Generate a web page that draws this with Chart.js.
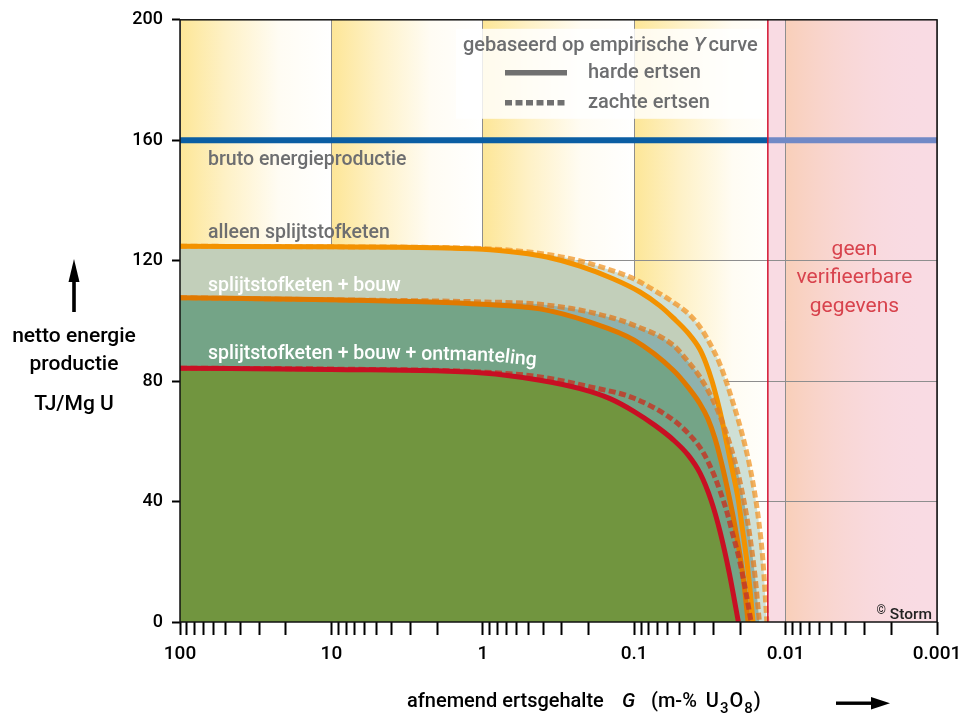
<!DOCTYPE html>
<html>
<head>
<meta charset="utf-8">
<script src="https://cdn.jsdelivr.net/npm/chart.js@4.4.0/dist/chart.umd.min.js"></script>
<style>
    html, body { margin: 0; padding: 0; background: #fff; }
    #wrap { width: 970px; height: 713px; }
</style>
</head>
<body>
<div id="wrap"><canvas id="myChart" width="970" height="713"></canvas></div>
<script>
// ertsgehalte G (m-% U3O8) tegen netto energie (TJ/Mg U)
const grossEnergy = 160;
const verifyLimit = 0.0131;

// alleen splijtstofketen
const hardFuelG = [100, 10, 1, 0.568, 0.378, 0.228, 0.138, 0.0916, 0.0676, 0.0552, 0.0441, 0.0368, 0.0336, 0.0306, 0.0284, 0.0263, 0.0244, 0.0226, 0.0206, 0.0193, 0.0181, 0.0172, 0.0164];
const hardFuelE = [124.8, 124.6, 123.8, 122.6, 121.2, 118.2, 114, 109.6, 105, 101, 96, 90.5, 86, 80, 74, 67, 59, 51, 41, 31, 21, 11, 0];
const softFuelG = [100, 10, 1, 0.378, 0.228, 0.138, 0.1, 0.0676, 0.0552, 0.0441, 0.0368, 0.0316, 0.0271, 0.0223, 0.0185, 0.0164, 0.0150, 0.0141, 0.0133];
const softFuelE = [124.8, 124.6, 124, 122.1, 119.9, 116.6, 113.9, 109, 106.2, 102.5, 98, 92.5, 85.5, 73, 58.5, 46, 33, 20, 0];

// splijtstofketen + bouw
const hardBuildG = [100, 10, 1, 0.419, 0.196, 0.1, 0.0552, 0.0441, 0.0368, 0.0326, 0.0293, 0.0267, 0.0244, 0.0226, 0.0213, 0.0200, 0.0188, 0.0177];
const hardBuildE = [107.7, 107, 105.5, 104, 99.6, 93.6, 83.6, 78, 72.5, 67.5, 61, 53.5, 45, 37, 30, 22, 12.5, 0];
const softBuildG = [100, 10, 1, 0.419, 0.196, 0.1, 0.0552, 0.0441, 0.0368, 0.0288, 0.0233, 0.0197, 0.0174, 0.0159, 0.0149];
const softBuildE = [107.7, 107, 106.3, 105.5, 102.9, 98.5, 91.9, 86.5, 81.4, 71.5, 59, 45, 30, 15, 0];

// splijtstofketen + bouw + ontmanteling
const hardFullG = [100, 10, 1, 0.419, 0.228, 0.1445, 0.1, 0.0729, 0.0552, 0.0441, 0.0368, 0.0311, 0.0271, 0.0236, 0.0205];
const hardFullE = [84.3, 83.9, 82.7, 80.3, 77.5, 74.2, 69.9, 65.3, 60.5, 55.5, 49.5, 40.5, 30, 16.5, 0];
const softFullG = [100, 10, 1, 0.419, 0.196, 0.1, 0.0552, 0.0441, 0.0368, 0.0331, 0.0297, 0.0271, 0.0244, 0.0223, 0.0206, 0.0194, 0.0183, 0.0169];
const softFullE = [84.3, 84, 83, 81.4, 78.1, 74.3, 67.1, 62.7, 58, 54, 48.8, 43.5, 36.5, 29, 22.5, 16.5, 10, 0];

const brutoG = [100, verifyLimit, 0.001];
const brutoE = [grossEnergy, grossEnergy, grossEnergy];

const xDecades = [100, 10, 1, 0.1, 0.01, 0.001];
const xTickLabels = ['100', '10', '1', '0.1', '0.01', '0.001'];
const xMinorSteps = [2, 3, 4, 5, 6, 7, 8, 9];
const yTickStep = 40;

const fontFam = "Roboto, 'Noto Sans', sans-serif";
const gridGray = '#8e8e8e';
const textGray = '#6d6e70';

function pts(gs, es) {
    return gs.map((g, i) => ({ x: g, y: es[i] }));
}

function isDecade(v) {
    const l = Math.log10(v);
    return Math.abs(l - Math.round(l)) < 1e-6;
}

const xTickValues = [];
xDecades.forEach((d, i) => {
    xTickValues.push(d);
    if (i > 0) xMinorSteps.forEach(m => xTickValues.push(+(m * d).toPrecision(6)));
});

const backdrop = {
    id: 'backdrop',
    beforeDraw(chart) {
        const { ctx, chartArea: a, scales: { x } } = chart;
        const h = a.bottom - a.top;
        const xl = x.getPixelForValue(verifyLimit);
        ctx.save();
        for (let i = 0; i < xDecades.length - 1; i++) {
            const x0 = x.getPixelForValue(xDecades[i]);
            const x1 = x.getPixelForValue(xDecades[i + 1]);
            if (x0 >= xl) break;
            const g = ctx.createLinearGradient(x0, 0, x1, 0);
            g.addColorStop(0, '#fde697');
            g.addColorStop(0.3, '#fef1c6');
            g.addColorStop(0.65, '#fffcf3');
            g.addColorStop(1, '#ffffff');
            ctx.fillStyle = g;
            ctx.fillRect(x0, a.top, Math.min(x1, xl) - x0, h);
        }
        ctx.fillStyle = '#f9dbe3';
        ctx.fillRect(xl, a.top, a.right - xl, h);
        const xp = x.getPixelForValue(0.01);
        const gp = ctx.createLinearGradient(xp, 0, xp + 140, 0);
        gp.addColorStop(0, '#f9cfb9');
        gp.addColorStop(1, 'rgba(249,219,227,0)');
        ctx.fillStyle = gp;
        ctx.fillRect(xp, a.top, 140, h);
        ctx.restore();
    }
};

// tekst die licht afbuigt, zoals het label langs de onderste curve
function drawBentText(ctx, text, x, y, drop) {
    const n = text.length;
    let cx = x;
    for (let i = 0; i < n; i++) {
        const ch = text[i];
        const w = ctx.measureText(ch).width;
        const t = i / n;
        const dy = drop * t * t;
        const ang = Math.atan(2 * drop * t / (n * w || 1)) * 0.9;
        ctx.save();
        ctx.translate(cx, y + dy);
        ctx.rotate(ang);
        ctx.fillText(ch, 0, 0);
        ctx.restore();
        cx += w;
    }
}

const annotations = {
    id: 'annotations',
    afterDatasetsDraw(chart) {
        const { ctx, chartArea: a, scales: { x } } = chart;
        const xl = x.getPixelForValue(verifyLimit);
        ctx.save();
        // grens verifieerbare gegevens
        ctx.strokeStyle = '#d3122f';
        ctx.lineWidth = 1.5;
        ctx.beginPath();
        ctx.moveTo(xl, a.top);
        ctx.lineTo(xl, a.bottom);
        ctx.stroke();

        ctx.fillStyle = '#d8434d';
        ctx.font = `21px ${fontFam}`;
        ctx.textAlign = 'center';
        ctx.textBaseline = 'middle';
        const cx = (xl + a.right) / 2 + 2;
        ctx.fillText('geen', cx, a.top + 230);
        ctx.fillText('verifieerbare', cx, a.top + 258);
        ctx.fillText('gegevens', cx, a.top + 287);

        // labels bij de curves
        ctx.textAlign = 'left';
        ctx.font = `500 19.5px ${fontFam}`;
        const lx = a.left + 28;
        ctx.fillStyle = textGray;
        ctx.fillText('bruto energieproductie', lx, a.top + 140);
        ctx.fillText('alleen splijtstofketen', lx, a.top + 213);
        ctx.fillStyle = '#ffffff';
        ctx.fillText('splijtstofketen + bouw', lx, a.top + 266);
        const first = 'splijtstofketen + bouw + ';
        ctx.fillText(first, lx, a.top + 334);
        drawBentText(ctx, 'ontmanteling', lx + ctx.measureText(first).width, a.top + 335, 6);

        // legenda
        ctx.fillStyle = 'rgba(255,255,255,0.82)';
        ctx.fillRect(a.left + 276, a.top + 9, 311, 90);
        ctx.fillStyle = textGray;
        ctx.font = `500 20px ${fontFam}`;
        let tx = a.left + 283;
        const ty = a.top + 26;
        const part1 = 'gebaseerd op empirische ';
        ctx.fillText(part1, tx, ty);
        tx += ctx.measureText(part1).width;
        ctx.font = `italic 500 20px ${fontFam}`;
        ctx.fillText('Y', tx, ty);
        tx += ctx.measureText('Y').width + 3;
        ctx.font = `500 20px ${fontFam}`;
        ctx.fillText('curve', tx, ty);

        ctx.strokeStyle = '#707070';
        ctx.lineWidth = 5.5;
        ctx.beginPath();
        ctx.moveTo(a.left + 325, a.top + 53);
        ctx.lineTo(a.left + 387, a.top + 53);
        ctx.stroke();
        ctx.setLineDash([7, 3.5]);
        ctx.beginPath();
        ctx.moveTo(a.left + 325, a.top + 83);
        ctx.lineTo(a.left + 387, a.top + 83);
        ctx.stroke();
        ctx.setLineDash([]);
        ctx.fillText('harde ertsen', a.left + 408, a.top + 53);
        ctx.fillText('zachte ertsen', a.left + 408, a.top + 83);
        ctx.restore();
    },
    afterDraw(chart) {
        const { ctx, chartArea: a } = chart;
        ctx.save();
        // kader
        ctx.strokeStyle = '#111';
        ctx.lineWidth = 1.5;
        ctx.strokeRect(a.left, a.top, a.right - a.left, a.bottom - a.top);

        // copyright
        ctx.fillStyle = '#222';
        ctx.textAlign = 'right';
        ctx.textBaseline = 'alphabetic';
        ctx.font = `500 15.5px ${fontFam}`;
        ctx.fillText('Storm', a.right - 5, a.bottom - 3);
        const sw = ctx.measureText('Storm').width;
        ctx.font = `12px ${fontFam}`;
        ctx.fillText('©', a.right - 9 - sw, a.bottom - 8);

        // y-as titel
        ctx.fillStyle = '#000';
        ctx.textAlign = 'center';
        ctx.textBaseline = 'middle';
        ctx.font = `500 21px ${fontFam}`;
        ctx.fillText('netto energie', 74, 337);
        ctx.fillText('productie', 74, 365);
        ctx.fillText('TJ/Mg U', 74, 405);
        ctx.fillRect(72.2, 278, 3.6, 34);
        ctx.beginPath();
        ctx.moveTo(74, 259);
        ctx.lineTo(68.5, 282);
        ctx.lineTo(79.5, 282);
        ctx.closePath();
        ctx.fill();

        // x-as titel
        ctx.textAlign = 'left';
        ctx.textBaseline = 'alphabetic';
        const by = 707;
        ctx.font = `500 20px ${fontFam}`;
        ctx.fillText('afnemend ertsgehalte', 407, by);
        ctx.font = `italic 500 20px ${fontFam}`;
        ctx.fillText('G', 622, by);
        ctx.font = `500 20px ${fontFam}`;
        ctx.fillText('(m-%', 651, by);
        let tx = 651 + ctx.measureText('(m-%').width + 9;
        ctx.fillText('U', tx, by);
        tx += ctx.measureText('U').width + 1;
        ctx.font = `500 15px ${fontFam}`;
        ctx.fillText('3', tx, by + 6);
        tx += ctx.measureText('3').width + 1;
        ctx.font = `500 20px ${fontFam}`;
        ctx.fillText('O', tx, by);
        tx += ctx.measureText('O').width + 1;
        ctx.font = `500 15px ${fontFam}`;
        ctx.fillText('8', tx, by + 6);
        tx += ctx.measureText('8').width + 1;
        ctx.font = `500 20px ${fontFam}`;
        ctx.fillText(')', tx, by);

        ctx.fillRect(836, 701.5, 38, 3.4);
        ctx.beginPath();
        ctx.moveTo(890, 703.2);
        ctx.lineTo(871, 697);
        ctx.lineTo(871, 709.4);
        ctx.closePath();
        ctx.fill();
        ctx.restore();
    }
};

const solidWidth = 5;
const dash = [7, 3.5];

const datasets = [
    {
        data: pts(hardFullG, hardFullE), order: 1, fill: 'origin',
        backgroundColor: '#71953f', borderColor: '#c80f23', borderWidth: solidWidth
    },
    {
        data: pts(softFullG, softFullE), order: 2, fill: false,
        borderColor: 'rgba(194,58,40,0.85)', borderWidth: solidWidth, borderDash: dash
    },
    {
        data: pts(hardBuildG, hardBuildE), order: 3, fill: 'origin',
        backgroundColor: '#74a487', borderColor: '#e07900', borderWidth: solidWidth
    },
    {
        data: pts(softBuildG, softBuildE), order: 4, fill: 'origin',
        backgroundColor: '#8fb2ad', borderColor: 'rgba(222,126,38,0.8)', borderWidth: solidWidth, borderDash: dash
    },
    {
        data: pts(hardFuelG, hardFuelE), order: 5, fill: 'origin',
        backgroundColor: '#c2cfba', borderColor: '#f39200', borderWidth: solidWidth
    },
    {
        data: pts(softFuelG, softFuelE), order: 6, fill: 'origin',
        backgroundColor: '#cfe0d6', borderColor: 'rgba(240,150,40,0.75)', borderWidth: solidWidth, borderDash: dash
    },
    {
        data: pts(brutoG, brutoE), order: 7, fill: false,
        borderColor: '#0b5ea3', borderWidth: 6,
        segment: {
            borderColor: ctx => ctx.p0.parsed.x <= verifyLimit * 1.001 ? '#7189c6' : '#0b5ea3'
        }
    }
];

const configuration = {
    type: 'line',
    data: { datasets: datasets },
    options: {
        responsive: false,
        animation: false,
        devicePixelRatio: 1,
        layout: { padding: { top: 18, right: 33, left: 0, bottom: 0 } },
        elements: {
            point: { radius: 0, hoverRadius: 0 },
            line: { cubicInterpolationMode: 'monotone', borderCapStyle: 'butt', borderJoinStyle: 'round' }
        },
        scales: {
            x: {
                type: 'logarithmic',
                reverse: true,
                min: 0.001,
                max: 100,
                z: 1,
                afterBuildTicks: (scale) => {
                    scale.ticks = xTickValues.map(v => ({ value: v, major: isDecade(v) }));
                },
                afterFit: (scale) => { scale.height = 91; },
                border: { display: false },
                grid: {
                    color: ctx => (ctx.tick && isDecade(ctx.tick.value)) ? gridGray : 'transparent',
                    lineWidth: 1,
                    tickColor: '#000',
                    tickLength: 13,
                    tickWidth: 2
                },
                ticks: {
                    autoSkip: false,
                    maxRotation: 0,
                    padding: 8,
                    color: '#000',
                    font: { family: fontFam, size: 19, weight: '500' },
                    callback: function (value) {
                        const i = xDecades.findIndex(d => Math.abs(d - value) / d < 1e-6);
                        return i >= 0 ? xTickLabels[i] : '';
                    }
                }
            },
            y: {
                min: 0,
                max: 200,
                z: 1,
                afterFit: (scale) => { scale.width = 180; },
                border: { display: false },
                grid: {
                    color: ctx => (ctx.tick && ctx.tick.value > 0 && ctx.tick.value < 200) ? gridGray : 'transparent',
                    lineWidth: 1,
                    tickColor: '#000',
                    tickLength: 8,
                    tickWidth: 2
                },
                ticks: {
                    stepSize: yTickStep,
                    padding: 9,
                    color: '#000',
                    font: { family: fontFam, size: 18, weight: '500' }
                }
            }
        },
        plugins: {
            legend: { display: false },
            tooltip: { enabled: false },
            filler: { drawTime: 'beforeDatasetsDraw' }
        }
    },
    plugins: [backdrop, annotations]
};

const myChartInstance = new Chart(document.getElementById('myChart'), configuration);
</script>
</body>
</html>
